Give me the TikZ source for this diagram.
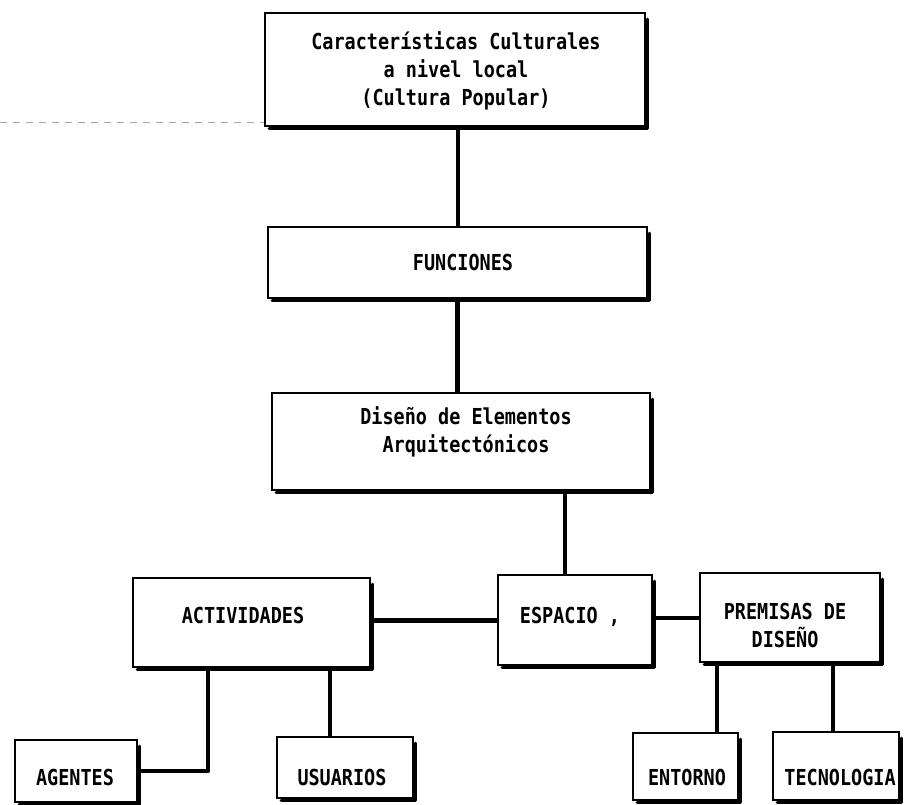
\documentclass[tikz,border=0pt]{standalone}
\usepackage{fontspec}
\newfontfamily\dm[FakeStretch=0.84]{DejaVu Sans Mono}
\begin{document}
\begin{tikzpicture}[x=1pt,y=-1pt,
  boxn/.style={draw=black,line width=1.5pt,rectangle,inner sep=0pt},
  shadowline/.style={line width=3.2pt,line cap=round,line join=round},
  conn/.style={line width=4.5pt},
  lbl/.style={font=\dm\bfseries\fontsize{22}{28}\selectfont,align=center,inner sep=0pt}]
\newcommand\boxshadow[1]{\draw[shadowline] ([xshift=1.8pt,yshift=-7pt]#1.north east) -- ([xshift=1.8pt,yshift=-1.6pt]#1.south east) -- ([xshift=5pt,yshift=-1.6pt]#1.south west);}
\useasboundingbox (0,0) rectangle (905,805);
% boxes
\node[boxn,minimum width=380pt,minimum height=113pt] (car) at (455,69.5) {};
\node[boxn,minimum width=379pt,minimum height=71pt] (fun) at (457.5,262.5) {};
\node[boxn,minimum width=378pt,minimum height=97pt] (dis) at (461,441.5) {};
\node[boxn,minimum width=237pt,minimum height=89pt] (act) at (251.5,622.5) {};
\node[boxn,minimum width=154pt,minimum height=90pt] (esp) at (575,620) {};
\node[boxn,minimum width=180pt,minimum height=89pt] (pre) at (790,617.5) {};
\node[boxn,minimum width=122pt,minimum height=62pt] (age) at (76,771) {};
\node[boxn,minimum width=136pt,minimum height=61pt] (usu) at (345,767.5) {};
\node[boxn,minimum width=105pt,minimum height=67pt] (ent) at (685.5,766.5) {};
\node[boxn,minimum width=126pt,minimum height=68pt] (tec) at (836,766) {};
\foreach \b in {car,fun,dis,act,esp,pre,age,usu,ent,tec}{\boxshadow{\b}}
% texts
\node[lbl] (carT) at (456,71) {Características Culturales\\a nivel local\\(Cultura Popular)};
\node[lbl] (funT) at (463,262) {FUNCIONES};
\node[lbl] (disT) at (466,432) {Diseño de Elementos\\Arquitectónicos};
\node[lbl] (actT) at (243,615) {ACTIVIDADES};
\node[lbl] (espT) at (570,617) {ESPACIO ,};
\node[lbl] (preT) at (785,625) {PREMISAS DE\\DISEÑO};
\node[lbl] (ageT) at (75,777) {AGENTES};
\node[lbl] (usuT) at (342,777) {USUARIOS};
\node[lbl] (entT) at (687,777) {ENTORNO};
\node[lbl] (tecT) at (840,777) {TECNOLOGIA};
% connectors
\draw[conn] ([xshift=3pt]car.south) -- ([xshift=3pt]car.south |- fun.north);
\draw[conn] (fun.south) -- (fun.south |- dis.north);
\draw[conn] ([xshift=-10pt]esp.north) -- ([xshift=-10pt]esp.north |- dis.south);
\draw[conn] ([yshift=2pt]act.east) -- ([yshift=2pt]act.east -| esp.west);
\draw[conn] ([yshift=2pt]esp.east) -- ([yshift=2pt]esp.east -| pre.west);
\draw[conn,line join=round] ([xshift=-43.5pt]act.south) -- ([xshift=-43.5pt]act.south |- age.east) -- (age.east);
\draw[conn] ([xshift=-15pt]usu.north) -- ([xshift=-15pt]usu.north |- act.south);
\draw[conn] ([xshift=31.5pt]ent.north) -- ([xshift=31.5pt]ent.north |- pre.south);
\draw[conn] ([xshift=-3pt]tec.north) -- ([xshift=-3pt]tec.north |- pre.south);
% faint scan line at left
\coordinate (dl) at (0,122);
\draw[gray!70,line width=0.8pt,dash pattern=on 7pt off 6pt] (dl) -- (dl -| car.west);
\end{tikzpicture}
\end{document}
